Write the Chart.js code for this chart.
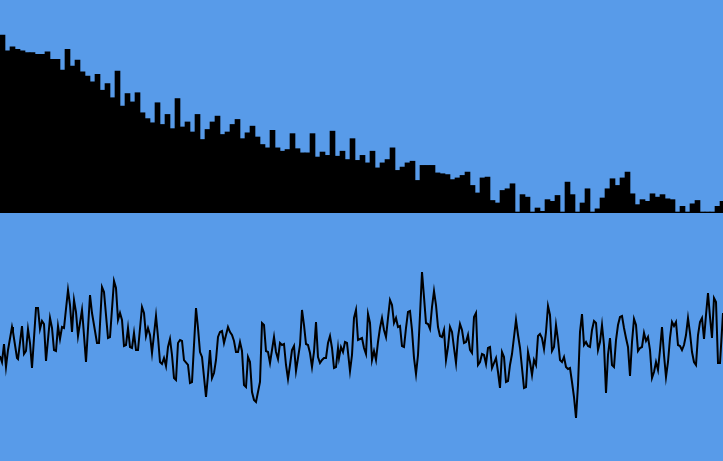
<!DOCTYPE html>
<html>
<head>
<meta charset="utf-8">
<script src="https://cdn.jsdelivr.net/npm/chart.js@4"></script>
<style>
  html, body { margin: 0; padding: 0; width: 723px; height: 461px; overflow: hidden; background: #589be9; }
  #spectrum { position: absolute; left: 0; top: 0; }
  #wave { position: absolute; left: 0; top: 213px; }
</style>
</head>
<body>
<canvas id="spectrum" width="725" height="213"></canvas>
<canvas id="wave" width="723" height="248"></canvas>
<script>
// frequency bins (0-255 levels)
const freqLevels = [
  213, 194, 199, 196, 194, 192, 192, 190, 190, 193, 184, 184, 171, 196, 176, 183, 169, 164, 157, 166,
  147, 155, 138, 170, 128, 143, 133, 144, 120, 113, 108, 132, 106, 118, 101, 137, 103, 109, 97, 118,
  88, 100, 109, 116, 94, 97, 106, 112, 89, 96, 104, 91, 82, 78, 99, 78, 74, 76, 95, 77,
  72, 72, 95, 67, 73, 69, 98, 68, 74, 64, 89, 63, 69, 60, 74, 54, 60, 64, 78, 51,
  55, 60, 62, 39, 57, 57, 57, 48, 47, 46, 40, 42, 45, 49, 33, 24, 42, 43, 15, 12,
  27, 29, 35, 0, 22, 19, 0, 6, 2, 16, 14, 21, 0, 37, 22, 0, 12, 29, 0, 5,
  18, 29, 41, 33, 42, 49, 23, 10, 16, 14, 23, 19, 22, 17, 16, 0, 8, 0, 11, 15,
  0, 0, 0, 8, 14
];
const freqBins = freqLevels.map((v, i) => i);

// waveform samples: position across the view and level
const waveX = [
  0, 2, 4, 6, 8, 12, 13, 17, 18, 22, 24, 26, 28, 30, 32, 36, 38, 40, 42, 44,
  46, 50, 52, 54, 56, 58, 60, 62, 64, 68, 70, 72, 74, 76, 78, 82, 83, 86, 90, 92,
  97, 99, 102, 104, 108, 110, 114, 116, 118, 120, 122, 124, 126, 128, 130, 132, 134, 136, 138, 142,
  144, 146, 148, 150, 152, 156, 158, 160, 162, 164, 166, 168, 170, 172, 174, 176, 178, 180, 182, 184,
  188, 190, 192, 196, 198, 200, 202, 206, 208, 210, 212, 214, 216, 218, 220, 222, 224, 226, 228, 230,
  232, 234, 236, 238, 240, 242, 244, 246, 248, 250, 252, 254, 256, 260, 262, 264, 266, 268, 270, 274,
  276, 278, 280, 282, 284, 286, 288, 290, 292, 294, 296, 298, 300, 302, 304, 306, 308, 310, 312, 314,
  316, 318, 320, 322, 324, 326, 328, 330, 332, 334, 336, 338, 339, 341, 343, 345, 347, 350, 352, 354,
  356, 358, 360, 362, 364, 366, 368, 370, 372, 374, 376, 378, 380, 382, 384, 386, 388, 390, 392, 394,
  396, 398, 400, 402, 404, 406, 408, 410, 412, 414, 416, 418, 420, 422, 424, 426, 428, 430, 432, 434,
  436, 438, 440, 442, 444, 446, 448, 450, 452, 454, 456, 458, 460, 462, 464, 466, 468, 470, 472, 474,
  476, 478, 480, 482, 484, 486, 488, 490, 492, 494, 496, 498, 500, 502, 504, 506, 508, 510, 512, 516,
  518, 520, 522, 524, 526, 528, 530, 532, 534, 536, 538, 540, 542, 544, 546, 548, 550, 552, 554, 556,
  558, 560, 562, 564, 566, 568, 570, 572, 574, 576, 578, 580, 582, 584, 586, 588, 590, 592, 594, 596,
  598, 600, 602, 604, 606, 608, 610, 612, 614, 616, 618, 620, 622, 624, 626, 628, 630, 632, 634, 636,
  638, 640, 642, 644, 646, 648, 650, 652, 654, 656, 658, 660, 662, 664, 666, 668, 670, 672, 674, 676,
  678, 680, 682, 684, 686, 688, 690, 692, 694, 696, 698, 700, 702, 704, 706, 708, 710, 712, 714, 716,
  718, 720, 723
];
const waveLevels = [
  105, 99, 117, 94, 111, 134, 129, 103, 102, 135, 107, 110, 132, 118, 93, 153, 153, 132, 140, 137,
  100, 143, 133, 111, 110, 135, 122, 134, 133, 171, 156, 129, 161, 149, 125, 151, 139, 99, 166, 148,
  118, 118, 174, 169, 123, 124, 180, 173, 141, 148, 141, 115, 116, 133, 114, 113, 128, 111, 111, 154,
  148, 125, 133, 126, 108, 145, 124, 99, 97, 103, 95, 114, 122, 106, 83, 81, 118, 121, 120, 101,
  96, 78, 79, 153, 133, 109, 104, 64, 86, 111, 83, 88, 101, 124, 129, 130, 118, 126, 134, 129,
  126, 120, 109, 109, 119, 110, 76, 74, 104, 99, 69, 61, 59, 79, 138, 136, 110, 109, 98, 124,
  109, 102, 118, 116, 117, 96, 82, 96, 111, 115, 90, 103, 116, 151, 136, 117, 116, 108, 94, 109,
  139, 104, 98, 101, 103, 103, 118, 125, 113, 93, 94, 113, 103, 114, 109, 119, 118, 90, 106, 143,
  151, 121, 122, 123, 113, 107, 147, 138, 101, 110, 101, 119, 133, 143, 131, 124, 143, 161, 156, 138,
  143, 134, 135, 115, 114, 133, 149, 150, 131, 103, 87, 106, 146, 189, 164, 138, 137, 132, 154, 170,
  156, 134, 125, 124, 131, 101, 114, 134, 129, 113, 98, 124, 137, 131, 118, 119, 126, 111, 108, 144,
  148, 96, 99, 107, 106, 97, 113, 114, 93, 98, 103, 89, 73, 109, 104, 79, 80, 96, 107, 141,
  126, 113, 93, 73, 74, 109, 99, 86, 101, 96, 125, 127, 123, 112, 129, 155, 146, 110, 114, 136,
  121, 101, 99, 104, 94, 92, 93, 79, 64, 43, 76, 129, 147, 116, 119, 115, 114, 131, 140, 138,
  111, 119, 136, 116, 68, 106, 123, 96, 94, 121, 136, 144, 145, 133, 123, 114, 85, 119, 142, 136,
  110, 113, 114, 128, 120, 124, 111, 83, 89, 99, 91, 111, 134, 106, 84, 99, 123, 139, 135, 139,
  116, 115, 111, 116, 126, 143, 128, 109, 99, 96, 126, 139, 143, 122, 146, 168, 144, 123, 163, 159,
  98, 98, 148
];

new Chart(document.getElementById('spectrum'), {
  type: 'bar',
  data: {
    labels: freqBins,
    datasets: [{
      data: freqLevels,
      backgroundColor: '#000000',
      borderWidth: 0,
      barPercentage: 1,
      categoryPercentage: 1,
      minBarLength: 1
    }]
  },
  options: {
    responsive: false,
    animation: false,
    layout: { padding: 0 },
    plugins: { legend: { display: false }, tooltip: { enabled: false } },
    scales: {
      x: { display: false },
      y: { display: false, min: 0, max: 255 }
    }
  }
});

new Chart(document.getElementById('wave'), {
  type: 'line',
  data: {
    datasets: [{
      data: waveX.map((x, i) => ({ x: x, y: waveLevels[i] })),
      borderColor: '#000000',
      borderWidth: 2,
      pointRadius: 0,
      tension: 0,
      fill: false
    }]
  },
  options: {
    responsive: false,
    animation: false,
    layout: { padding: 0 },
    plugins: { legend: { display: false }, tooltip: { enabled: false } },
    scales: {
      x: { type: 'linear', display: false, min: 0, max: 723 },
      y: { display: false, min: 0, max: 248 }
    }
  }
});
</script>
</body>
</html>
